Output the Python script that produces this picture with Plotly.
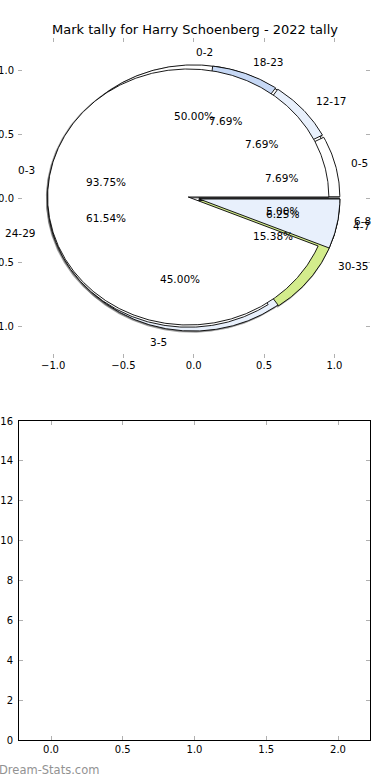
import numpy as np
import plotly.graph_objects as go

# ---- data ----
title = "Mark tally for Harry Schoenberg - 2022 tally"
pie_a_labels = ["0-5", "12-17", "18-23", "24-29", "30-35"]
pie_a_values = [1, 1, 1, 8, 2]
pie_b_labels = ["0-3", "4-7"]
pie_b_values = [15, 1]
pie_c_labels = ["0-2", "3-5", "6-8"]
pie_c_values = [10, 9, 1]
palette = ["#ffffff", "#e8f0fc", "#c6d8f5", "#ffffff", "#d3ec8c"]
pie_ticks = [-1.0, -0.5, 0.0, 0.5, 1.0]
bar_x_ticks = [0.0, 0.5, 1.0, 1.5, 2.0]
bar_y_ticks = [0, 2, 4, 6, 8, 10, 12, 14, 16]

EXPLODE = 0.04
LABEL_DIST = 1.1
PCT_DIST = 0.6
FONT = "DejaVu Sans"

fig = go.Figure()
annotations = []


def wedges(values):
    vals = np.asarray(values, dtype=float)
    frac = vals / vals.sum()
    edges = np.concatenate([[0.0], np.cumsum(frac)]) * 360.0
    out = []
    for i in range(len(vals)):
        t1, t2 = edges[i], edges[i + 1]
        tm = 0.5 * (t1 + t2)
        cx = EXPLODE * np.cos(np.radians(tm))
        cy = EXPLODE * np.sin(np.radians(tm))
        n = max(int((t2 - t1) * 2), 4)
        th = np.radians(np.linspace(t1, t2, n))
        xs = np.concatenate([[cx], cx + np.cos(th), [cx]])
        ys = np.concatenate([[cy], cy + np.sin(th), [cy]])
        out.append((xs, ys, tm, cx, cy, frac[i]))
    return out


pies = [(pie_c_labels, pie_c_values), (pie_a_labels, pie_a_values),
        (pie_b_labels, pie_b_values)]

# shadows first (below every wedge)
for labels, values in pies:
    for xs, ys, tm, cx, cy, f in wedges(values):
        fig.add_trace(go.Scatter(x=xs - 0.006, y=ys - 0.006, mode="lines",
                                 fill="toself", fillcolor="rgba(77,77,77,0.5)",
                                 line=dict(color="rgba(77,77,77,0.5)", width=1.8),
                                 hoverinfo="skip", showlegend=False,
                                 xaxis="x", yaxis="y"))

for labels, values in pies:
    for i, (xs, ys, tm, cx, cy, f) in enumerate(wedges(values)):
        fig.add_trace(go.Scatter(x=xs, y=ys, mode="lines", fill="toself",
                                 fillcolor=palette[i % len(palette)],
                                 line=dict(color="black", width=0.9),
                                 hoverinfo="skip", showlegend=False,
                                 xaxis="x", yaxis="y"))

for labels, values in pies:
    for i, (xs, ys, tm, cx, cy, f) in enumerate(wedges(values)):
        c, s = np.cos(np.radians(tm)), np.sin(np.radians(tm))
        xt, yt = cx + LABEL_DIST * c, cy + LABEL_DIST * s
        annotations.append(dict(x=xt, y=yt, xref="x", yref="y", text=labels[i],
                                showarrow=False, xanchor="left" if xt > 0 else "right",
                                yanchor="middle", font=dict(family=FONT, size=10.5, color="black")))
        xp, yp = cx + PCT_DIST * c, cy + PCT_DIST * s
        annotations.append(dict(x=xp, y=yp, xref="x", yref="y", text="%.2f%%" % (100 * f),
                                showarrow=False, xanchor="center", yanchor="middle",
                                font=dict(family=FONT, size=10.5, color="black")))

# empty second axes
fig.add_trace(go.Scatter(x=[], y=[], xaxis="x2", yaxis="y2", showlegend=False))

W, H = 390, 780
tick_common = dict(ticks="inside", ticklen=4, tickwidth=1, tickcolor="#b0b0b0",
                   showgrid=False, zeroline=False, mirror="ticks", automargin=False,
                   tickfont=dict(family=FONT, size=10, color="black"))

annotations.append(dict(x=0.5, y=1 - 30 / H, xref="paper", yref="paper", text=title,
                        showarrow=False, xanchor="center", yanchor="middle",
                        font=dict(family=FONT, size=13, color="black")))
annotations.append(dict(x=0, y=1 - 770 / H, xref="paper", yref="paper", text="Dream-Stats.com",
                        showarrow=False, xanchor="left", yanchor="middle", xshift=-3,
                        font=dict(family=FONT, size=11.5, color="#929292")))

fig.update_layout(
    width=W, height=H, margin=dict(l=0, r=0, t=0, b=0, autoexpand=False),
    paper_bgcolor="white", plot_bgcolor="white", showlegend=False,
    xaxis=dict(domain=[18 / W, 369.5 / W], range=[-1.25, 1.25], tickvals=pie_ticks,
               tickformat=".1f", showline=False, anchor="y", fixedrange=True, **tick_common),
    yaxis=dict(domain=[1 - 358 / H, 1 - 38 / H], range=[-1.25, 1.25], tickvals=pie_ticks,
               tickformat=".1f", showline=False, anchor="x", fixedrange=True,
               ticklabelstandoff=3, **tick_common),
    xaxis2=dict(domain=[19 / W, 370 / W], range=[-0.223, 2.223], tickvals=bar_x_ticks,
                tickformat=".1f", showline=True, linecolor="black", linewidth=1,
                anchor="y2", **tick_common),
    yaxis2=dict(domain=[1 - 740 / H, 1 - 421 / H], range=[0, 16], tickvals=bar_y_ticks,
                showline=True, linecolor="black", linewidth=1, anchor="x2",
                ticklabelstandoff=3, **tick_common),
    annotations=annotations,
)

fig.write_html("out.html", config={"displayModeBar": False},
               post_script="document.body.style.margin='0';document.body.style.overflow='hidden';")
